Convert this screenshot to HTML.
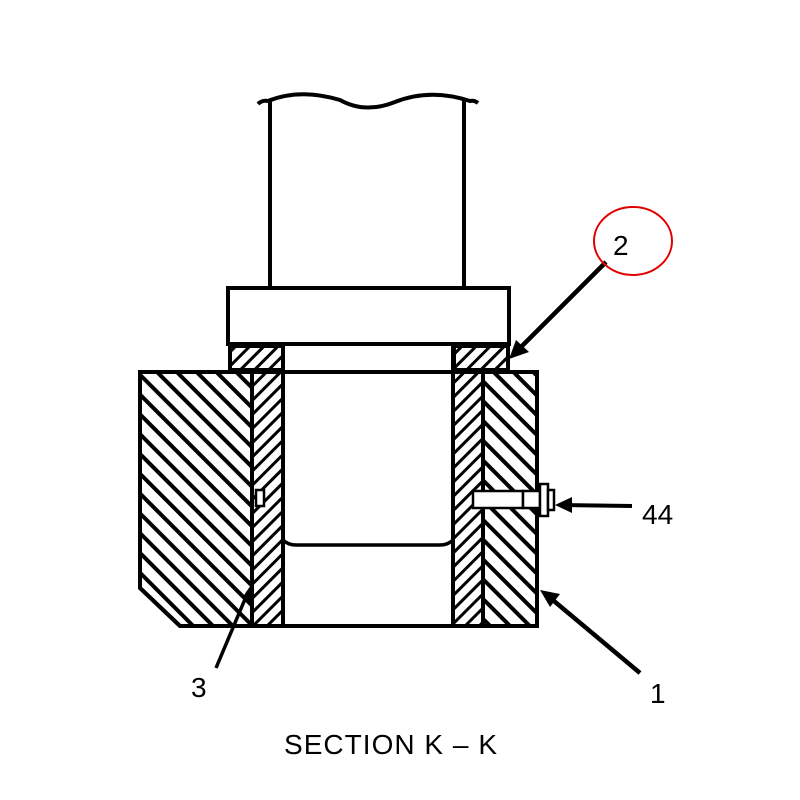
<!DOCTYPE html>
<html><head><style>body{margin:0;background:#fff}svg{display:block}</style></head><body>
<svg width="800" height="800" viewBox="0 0 800 800" xmlns="http://www.w3.org/2000/svg">
<defs>
<pattern id="hb" patternUnits="userSpaceOnUse" width="14" height="14" patternTransform="rotate(-45)"><rect x="0" y="0" width="4" height="14" fill="#000"/></pattern>
<pattern id="hs" patternUnits="userSpaceOnUse" width="10" height="10" patternTransform="rotate(45)"><rect x="0" y="0" width="3" height="10" fill="#000"/></pattern>
</defs>
<g stroke="#000" fill="none" stroke-width="4">
<path d="M258 104 Q262 100 268 101 Q300 88 340 100 Q365 114 395 102 Q430 88 470 101 Q474 100 478 103" stroke-width="4"/>
<line x1="270" y1="100" x2="270" y2="287"/>
<line x1="464" y1="100" x2="464" y2="287"/>
<rect x="228" y="288" width="281" height="56" fill="#fff"/>
<rect x="230" y="346" width="53" height="24" fill="url(#hs)"/>
<rect x="454" y="346" width="54" height="24" fill="url(#hs)"/>
<path d="M140 372 L252 372 L252 626 L180 626 L140 588 Z" fill="url(#hb)"/>
<rect x="483" y="372" width="54" height="254" fill="url(#hb)"/>
<rect x="252" y="372" width="31" height="254" fill="url(#hs)"/>
<rect x="453" y="372" width="30" height="254" fill="url(#hs)"/>
<path d="M140 372 L537 372 L537 626 L180 626 L140 588 Z"/>
<line x1="283" y1="346" x2="283" y2="626"/>
<line x1="453" y1="346" x2="453" y2="626"/>
<path d="M283 540 Q288 545 296 545 L440 545 Q448 545 453 540" stroke-width="3.5"/>
<rect x="256" y="490" width="8" height="16" fill="#fff" stroke-width="2.5"/>
<rect x="473" y="491" width="50" height="17" fill="#fff" stroke-width="2.5"/>
<rect x="523" y="491" width="17" height="17" fill="#fff" stroke-width="2.5"/>
<rect x="540" y="484" width="8" height="32" fill="#fff" stroke-width="2.5"/>
<rect x="548" y="490" width="6" height="20" fill="#fff" stroke-width="2.5"/>
<line x1="606" y1="262" x2="516" y2="352" stroke-width="4.5"/>
<line x1="632" y1="506" x2="560" y2="505" stroke-width="4"/>
<line x1="640" y1="673" x2="548" y2="596" stroke-width="4.5"/>
<line x1="216" y1="668" x2="248" y2="592" stroke-width="3.5"/>
<ellipse cx="633" cy="241" rx="39" ry="34" stroke="#e00000" stroke-width="2"/>
</g>
<g fill="#000">
<polygon points="509,359 516,340 529,352"/>
<polygon points="555,505 572,497 572,513"/>
<polygon points="540,590 560,594 550,607"/>
<polygon points="251,585 252,602 242,598"/>
</g>
<g font-family="Liberation Sans, sans-serif" font-size="28" fill="#000">
<text x="613" y="255">2</text>
<text x="642" y="524">44</text>
<text x="650" y="703">1</text>
<text x="191" y="697">3</text>
<text x="284" y="754" font-size="28" textLength="213" lengthAdjust="spacing">SECTION K – K</text>
</g>
</svg>
</body></html>
